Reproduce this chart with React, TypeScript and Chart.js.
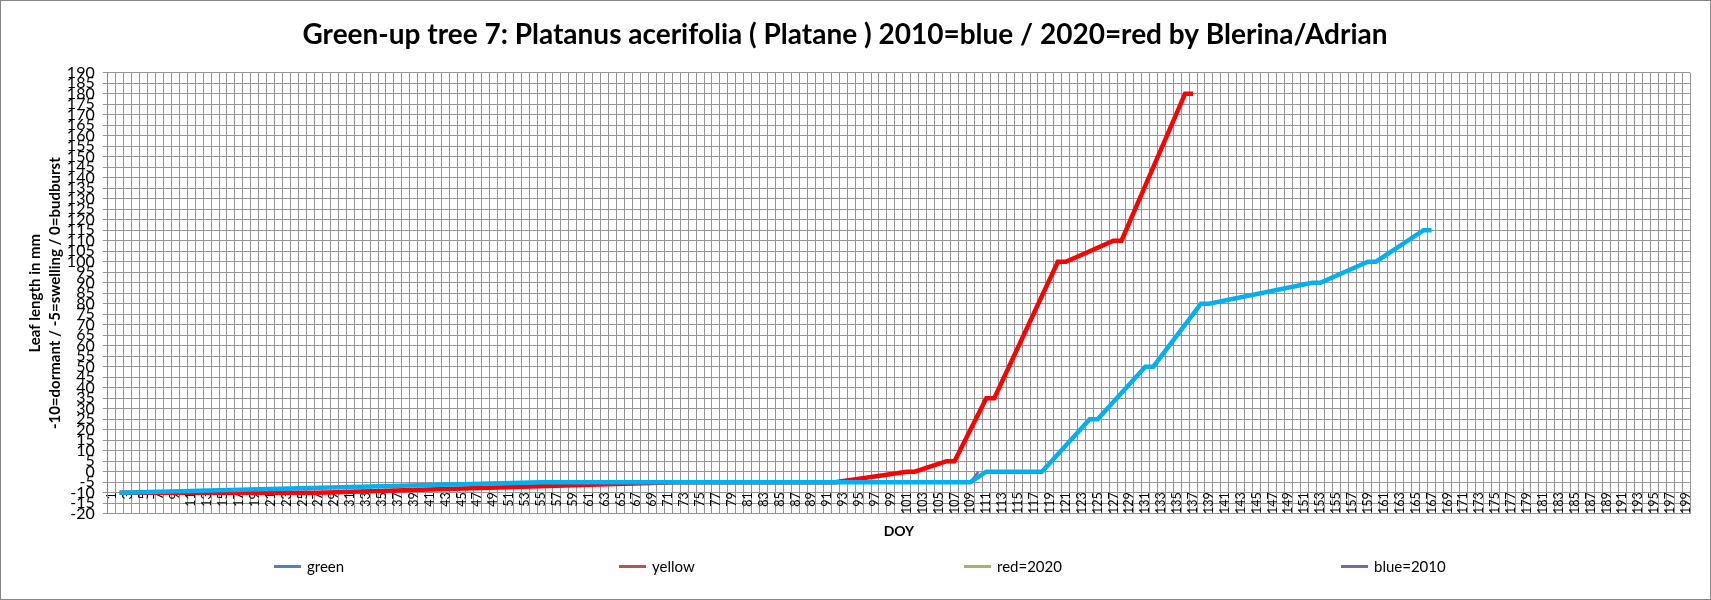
import React, { useEffect, useRef } from "react";
import { Chart, registerables } from "chart.js";

Chart.register(...registerables);

// ---- data ----
const dayLabels: string[] = Array.from({ length: 199 }, (_, i) => String(i + 1));

const cyan2010Days = [2, 55, 109, 111, 118, 124, 125, 131, 132, 138, 139, 152, 153, 159, 160, 166, 167];
const cyan2010Values = [-10, -5, -5, 0, 0, 25, 25, 50, 50, 80, 80, 90, 90, 100, 100, 115, 115];

const red2020Days = [2, 27, 72, 92, 101, 102, 106, 107, 111, 112, 120, 121, 127, 128, 136, 137];
const red2020Values = [-10, -10, -5, -5, 0, 0, 5, 5, 35, 35, 100, 100, 110, 110, 180, 180];

const blue2010Days = [109, 110];
const blue2010Values = [-5, 0];

const legendNames = ["green", "yellow", "red=2020", "blue=2010"];
const legendColors = ["#4F81BD", "#C0504D", "#9BBB59", "#8064A2"];

const TITLE = "Green-up tree 7: Platanus acerifolia ( Platane ) 2010=blue / 2020=red by Blerina/Adrian";
const Y_TITLE = ["Leaf length in mm", "-10=dormant / -5=swelling / 0=budburst"];
const X_TITLE = "DOY";

// layout constants
const W = 1711;
const H = 600;
const GRID = "#959595";
const FONT = "Lato, 'Open Sans', sans-serif";
const legendLefts = [274, 619, 964, 1341];

function toSeries(days: number[], values: number[]): (number | null)[] {
  const arr: (number | null)[] = dayLabels.map(() => null);
  days.forEach((d, i) => {
    arr[d - 1] = values[i];
  });
  return arr;
}

export default function App() {
  const canvasRef = useRef<HTMLCanvasElement | null>(null);

  useEffect(() => {
    if (!canvasRef.current) return;
    const chart = new Chart(canvasRef.current, {
      type: "line",
      data: {
        labels: dayLabels,
        datasets: [
          {
            label: "2010",
            data: toSeries(cyan2010Days, cyan2010Values),
            borderColor: "#00B0F0",
            backgroundColor: "#00B0F0",
            borderWidth: 4.5,
            pointRadius: 0,
            spanGaps: true,
            order: 0,
            xAxisID: "x",
            yAxisID: "y",
          },
          {
            label: legendNames[3],
            data: toSeries(blue2010Days, blue2010Values),
            borderColor: legendColors[3],
            backgroundColor: legendColors[3],
            borderWidth: 2.5,
            pointRadius: 0,
            spanGaps: true,
            order: 1,
            xAxisID: "x",
            yAxisID: "y",
          },
          {
            label: "2020",
            data: toSeries(red2020Days, red2020Values),
            borderColor: "#FF0000",
            backgroundColor: "#FF0000",
            borderWidth: 4.5,
            pointRadius: 0,
            spanGaps: true,
            order: 2,
            xAxisID: "x",
            yAxisID: "y",
          },
          {
            label: legendNames[0],
            data: dayLabels.map(() => null),
            borderColor: legendColors[0],
            pointRadius: 0,
            order: 3,
            xAxisID: "x",
            yAxisID: "y",
          },
          {
            label: legendNames[1],
            data: dayLabels.map(() => null),
            borderColor: legendColors[1],
            pointRadius: 0,
            order: 4,
            xAxisID: "x",
            yAxisID: "y",
          },
          {
            label: legendNames[2],
            data: dayLabels.map(() => null),
            borderColor: legendColors[2],
            pointRadius: 0,
            order: 5,
            xAxisID: "x",
            yAxisID: "y",
          },
        ],
      },
      options: {
        responsive: false,
        animation: false,
        events: [],
        layout: { padding: { left: 0, right: 21, top: 0, bottom: 46.3 } },
        plugins: {
          legend: { display: false },
          tooltip: { enabled: false },
          title: {
            display: true,
            text: TITLE,
            color: "#000",
            font: { family: FONT, size: 28, weight: "bold" },
            padding: { top: 18.2, bottom: 20.9 },
          },
        },
        scales: {
          x: {
            type: "category",
            offset: true,
            grid: { offset: true, color: GRID, drawTicks: false, lineWidth: 1 },
            border: { color: GRID },
            ticks: { display: false },
            title: {
              display: true,
              text: X_TITLE,
              color: "#000",
              font: { family: FONT, size: 14, weight: "bold" },
              padding: { top: 0, bottom: 14.3 },
            },
            afterFit: (s: any) => {
              s.height = 40;
            },
          },
          x2: {
            type: "category",
            axis: "x",
            position: { y: -5 },
            offset: true,
            grid: { display: false },
            border: { display: false },
            ticks: {
              autoSkip: false,
              maxRotation: 90,
              minRotation: 90,
              padding: 2,
              color: "#000",
              font: { family: FONT, size: 12.5 },
              callback: function (this: any, value: any, index: number) {
                return index % 2 === 0 ? this.getLabelForValue(value) : "";
              },
            },
          },
          y: {
            type: "linear",
            min: -20,
            max: 190,
            ticks: {
              stepSize: 5,
              autoSkip: false,
              color: "#000",
              padding: 8,
              font: { family: FONT, size: 16 },
            },
            grid: { color: GRID, tickLength: 5, lineWidth: 1 },
            border: { color: "#868686" },
            title: {
              display: true,
              text: Y_TITLE,
              color: "#000",
              font: { family: FONT, size: 15, weight: "bold", lineHeight: "20px" },
              padding: { top: 25, bottom: 0 },
            },
            afterFit: (s: any) => {
              s.width = 107.7;
            },
          },
        },
      } as any,
    });
    return () => chart.destroy();
  }, []);

  return (
    <div
      style={{
        position: "absolute",
        left: 0,
        top: 0,
        width: W,
        height: H,
        background: "#fff",
        overflow: "hidden",
      }}
    >
      <canvas ref={canvasRef} width={W} height={H} style={{ position: "absolute", left: 0, top: 0, width: W, height: H }} />
      {legendNames.map((name, i) => (
        <div
          key={name}
          style={{
            position: "absolute",
            left: legendLefts[i],
            top: 556,
            height: 20,
            display: "flex",
            alignItems: "center",
            fontFamily: FONT,
            fontSize: 15,
            color: "#000",
            whiteSpace: "nowrap",
          }}
        >
          <span style={{ display: "inline-block", width: 27, height: 3, background: legendColors[i], marginRight: 6 }} />
          <span>{name}</span>
        </div>
      ))}
      <div
        style={{
          position: "absolute",
          left: 0,
          top: 0,
          width: W,
          height: H,
          boxSizing: "border-box",
          border: "1px solid #868686",
          pointerEvents: "none",
        }}
      />
    </div>
  );
}
